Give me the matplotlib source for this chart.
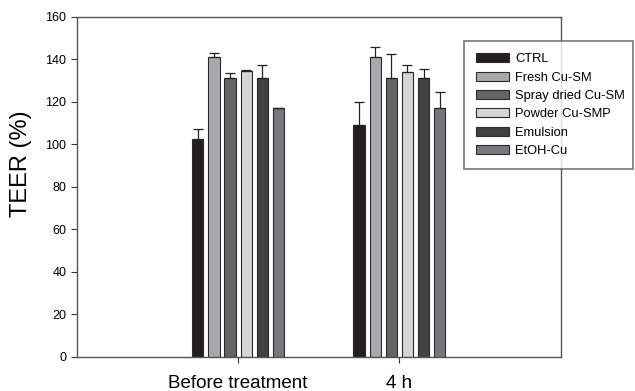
import numpy as np
import matplotlib
matplotlib.use("Agg")
import matplotlib.pyplot as plt

plt.rcParams['font.family'] = ['Liberation Sans', 'DejaVu Sans']

# datos
groups = ['Before treatment', '4 h']
series = ['CTRL', 'Fresh Cu-SM', 'Spray dried Cu-SM', 'Powder Cu-SMP', 'Emulsion', 'EtOH-Cu']
before = [102.6, 141.0, 131.1, 134.3, 131.4, 117.0]
before_err = [4.7, 2.2, 2.7, 0.5, 5.8, 0.0]
after_4h = [109.2, 141.0, 131.1, 134.0, 131.4, 117.0]
after_4h_err = [10.9, 4.7, 11.5, 3.2, 4.2, 7.8]
colors = ['#231f20', '#a7a9ac', '#636466', '#d4d5d7', '#414142', '#77787b']

values = np.array([before, after_4h])
errors = np.array([before_err, after_4h_err])

fig = plt.figure(figsize=(6.35, 3.91), dpi=100)
ax = fig.add_axes([0.121, 0.087, 0.762, 0.870])

x = np.array([1, 2])
width = 0.07
for i, name in enumerate(series):
    pos = x + (i - 2.5) * 0.1
    err = errors[:, i]
    ax.bar(pos, values[:, i], width, color=colors[i], edgecolor='#2a2a2a',
           linewidth=0.8, label=name, zorder=2)
    ax.errorbar(pos, values[:, i], yerr=[np.zeros_like(err), err], fmt='none',
                ecolor='#222222', elinewidth=0.9, capsize=3.6, capthick=0.9, zorder=3)

ax.set_xlim(0, 3)
ax.set_ylim(0, 160)
ax.set_yticks(range(0, 161, 20))
ax.set_xticks(x)
ax.set_xticklabels(groups, fontsize=13.5)
ax.tick_params(axis='y', labelsize=9, direction='out', length=4, width=0.8, colors='#333333')
ax.tick_params(axis='x', direction='out', length=4, width=0.8, colors='#333333', pad=9)
for lbl in ax.get_xticklabels() + ax.get_yticklabels():
    lbl.set_color('black')
for s in ax.spines.values():
    s.set_color('#555555')
    s.set_linewidth(1.0)
ax.set_ylabel('TEER (%)', fontsize=17)
ax.yaxis.set_label_coords(-0.093, 0.568)

leg = fig.legend(loc='upper left', bbox_to_anchor=(0.731, 0.573, 0.266, 0.322),
                 mode='expand', fontsize=9.3, frameon=True, fancybox=False,
                 handlelength=2.5, handleheight=0.7, labelspacing=0.49,
                 borderaxespad=0, borderpad=0.95, handletextpad=0.5)
leg.get_frame().set_edgecolor('#555555')
leg.get_frame().set_linewidth(1.2)

fig.savefig('out.png', dpi=100)
